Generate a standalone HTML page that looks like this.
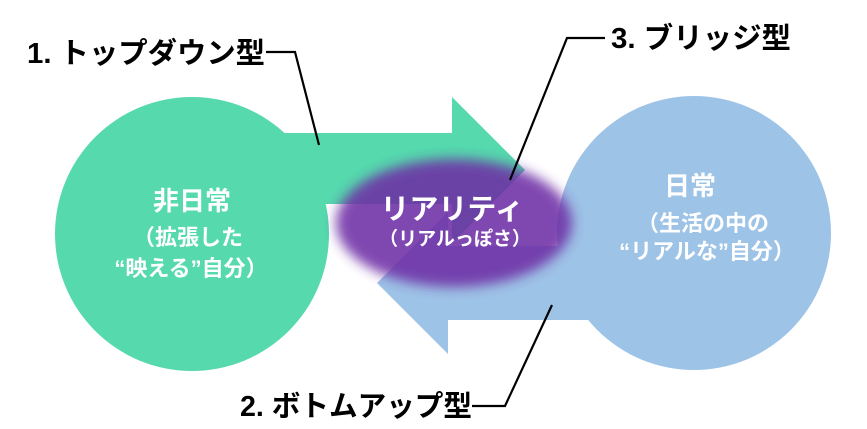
<!DOCTYPE html>
<html><head><meta charset="utf-8"><style>
html,body{margin:0;padding:0;background:#fff}
svg{display:block}
text{font-family:"Liberation Sans","Noto Sans CJK JP",sans-serif;font-weight:bold}
</style></head><body>
<svg width="867" height="429" viewBox="0 0 867 429" xmlns="http://www.w3.org/2000/svg">
<defs><filter id="b" x="-20%" y="-30%" width="140%" height="160%"><feGaussianBlur stdDeviation="6"/></filter></defs>
<circle cx="694" cy="233" r="137" fill="#9dc3e6"/>
<polygon points="377,283 448,212 448,246 700,246 700,320 448,320 448,354" fill="#9dc3e6"/>
<circle cx="192" cy="234" r="137" fill="#55d9ad"/>
<polygon points="200,133 452,133 452,97 525,170 452,243 452,204 200,204" fill="#55d9ad"/>
<ellipse cx="454" cy="223" rx="118" ry="64" fill="#6e2fa6" opacity="0.88" filter="url(#b)"/>
<g fill="#fff" text-anchor="middle">
<text x="452" y="219" font-size="29">リアリティ</text>
<text x="455" y="245" font-size="19">（リアルっぽさ）</text>
<text x="192" y="210" font-size="26">非日常</text>
<text x="188" y="245" font-size="22">（拡張した</text>
<text x="191" y="276" font-size="22">“映える”自分）</text>
<text x="690" y="195" font-size="26">日常</text>
<text x="703" y="231" font-size="22">（生活の中の</text>
<text x="707" y="259" font-size="22">“リアルな”自分）</text>
</g>
<g stroke="#000" stroke-width="2.2" fill="none">
<polyline points="266,52 295,52 319,145"/>
<polyline points="510,180 567,38 605,38"/>
<polyline points="552,305 505,406 472,406"/>
</g>
<g fill="#000" font-size="29">
<text x="27" y="63" textLength="238" lengthAdjust="spacingAndGlyphs">1. トップダウン型</text>
<text x="611" y="48" textLength="180" lengthAdjust="spacingAndGlyphs">3. ブリッジ型</text>
<text x="240" y="416" textLength="232" lengthAdjust="spacingAndGlyphs">2. ボトムアップ型</text>
</g>
</svg>
</body></html>
